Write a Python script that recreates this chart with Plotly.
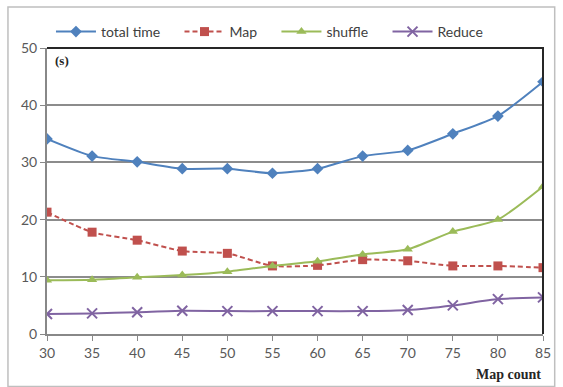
import plotly.graph_objects as go

# Map task count vs. execution time (seconds)
map_count = [30, 35, 40, 45, 50, 55, 60, 65, 70, 75, 80, 85]
total_time = [34.1, 31.1, 30.1, 28.9, 28.9, 28.1, 28.9, 31.1, 32.1, 35.0, 38.1, 44.1]
map_time = [21.3, 17.8, 16.4, 14.5, 14.1, 11.9, 12.0, 13.0, 12.8, 11.9, 11.9, 11.6]
shuffle_time = [9.4, 9.5, 9.9, 10.3, 10.9, 11.9, 12.7, 13.9, 14.8, 17.9, 20.0, 25.8]
reduce_time = [3.5, 3.6, 3.8, 4.05, 4.0, 4.0, 4.0, 4.0, 4.2, 5.0, 6.1, 6.4]
y_ticks = [0, 10, 20, 30, 40, 50]

BLUE = "#4F81BD"
RED = "#C0504D"
GREEN = "#9BBB59"
PURPLE = "#8064A2"

# non-breaking spaces widen the gap between legend entries
PAD = "\u00a0" * 4

fig = go.Figure()
fig.add_trace(go.Scatter(
    x=map_count, y=total_time, name="total time" + PAD, mode="lines+markers",
    line=dict(color=BLUE, width=2, shape="spline", smoothing=0.6),
    marker=dict(symbol="diamond", size=9, color=BLUE)))
fig.add_trace(go.Scatter(
    x=map_count, y=map_time, name="Map" + PAD, mode="lines+markers",
    line=dict(color=RED, width=2, dash="5px,3px", shape="spline", smoothing=0.6),
    marker=dict(symbol="square", size=9, color=RED)))
fig.add_trace(go.Scatter(
    x=map_count, y=shuffle_time, name="shuffle" + PAD, mode="lines+markers",
    line=dict(color=GREEN, width=2, shape="spline", smoothing=0.6),
    marker=dict(symbol="triangle-up", size=9, color=GREEN)))
fig.add_trace(go.Scatter(
    x=map_count, y=reduce_time, name="Reduce", mode="lines+markers",
    line=dict(color=PURPLE, width=2, shape="spline", smoothing=0.6),
    marker=dict(symbol="x-thin", size=10, color=PURPLE,
                line=dict(color=PURPLE, width=2))))

tick_font = dict(family="Lato, 'Open Sans', sans-serif", size=14, color="#595959")

fig.update_layout(
    width=563, height=387,
    margin=dict(l=47, r=14, t=48, b=53),
    paper_bgcolor="white", plot_bgcolor="white",
    showlegend=True,
    legend=dict(orientation="h", x=0.008, xanchor="left", y=1.056, yanchor="middle",
                font=dict(family="Lato, 'Open Sans', sans-serif", size=14, color="#404040"),
                itemwidth=40, bgcolor="rgba(0,0,0,0)", tracegroupgap=0),
    xaxis=dict(range=[30, 85], tickvals=map_count, ticks="outside", ticklen=5,
               tickcolor="#888888", showgrid=False, zeroline=False,
               showline=True, linecolor="#888888", linewidth=2,
               tickfont=tick_font),
    yaxis=dict(range=[0, 50], tickvals=y_ticks, ticks="outside", ticklen=5,
               tickcolor="#888888", showgrid=True, gridcolor="#8c8c8c", gridwidth=1.5,
               zeroline=False, showline=True, linecolor="#888888", linewidth=2,
               tickfont=tick_font),
    shapes=[
        # top and right edges of the plotting area
        dict(type="path", xref="paper", yref="paper",
             path="M 0,1 L 1,1 L 1,0", line=dict(color="#262626", width=2)),
        # outer chart frame
        dict(type="rect", xref="paper", yref="paper",
             x0=-0.0787, x1=1.0236, y0=-0.1836, y1=1.1434,
             line=dict(color="#bfbfbf", width=1.5), layer="below"),
    ],
    annotations=[
        dict(text="<b>(s)</b>", xref="paper", yref="paper", x=0.012, y=0.955,
             xanchor="left", yanchor="middle", showarrow=False,
             font=dict(family="'Liberation Serif', 'DejaVu Serif', serif", size=13, color="#262626")),
        dict(text="<b>Map count</b>", xref="paper", yref="paper", x=1.0, y=-0.143,
             xanchor="right", yanchor="middle", showarrow=False,
             font=dict(family="'Liberation Serif', 'DejaVu Serif', serif", size=14, color="#262626")),
    ],
)

fig.write_html("out.html")
